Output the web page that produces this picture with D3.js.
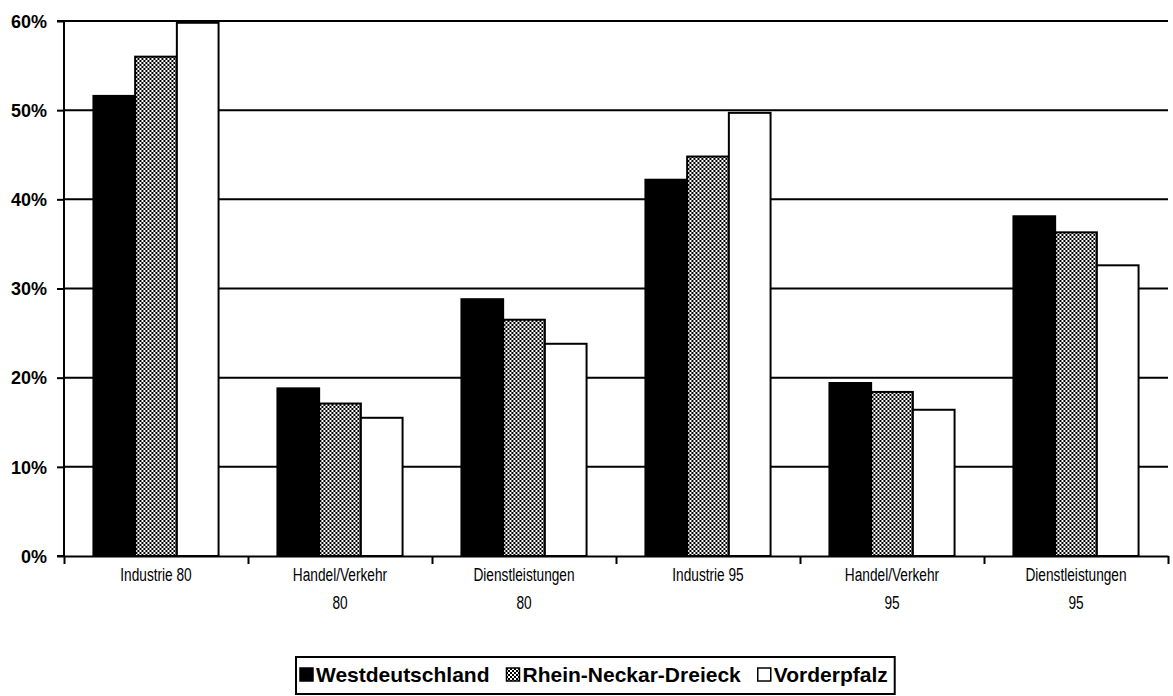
<!DOCTYPE html>
<html><head><meta charset="utf-8">
<script src="https://cdn.jsdelivr.net/npm/d3@7"></script>
<style>
html,body{margin:0;padding:0;background:#fff;}
svg{display:block;}
.ylab{font-family:"Liberation Sans",Arial,sans-serif;font-weight:bold;font-size:18px;}
.xlab{font-family:"Liberation Sans",Arial,sans-serif;font-size:19px;}
.leg{font-family:"Liberation Sans",Arial,sans-serif;font-weight:bold;font-size:21px;}
</style></head>
<body>
<svg id="chart" width="1173" height="696"></svg>
<script>
const categories = ["Industrie 80","Handel/Verkehr 80","Dienstleistungen 80","Industrie 95","Handel/Verkehr 95","Dienstleistungen 95"];
const categoryLabels = [["Industrie 80"],["Handel/Verkehr","80"],["Dienstleistungen","80"],["Industrie 95"],["Handel/Verkehr","95"],["Dienstleistungen","95"]];
const seriesNames = ["Westdeutschland","Rhein-Neckar-Dreieck","Vorderpfalz"];
const westdeutschland   = [51.6, 18.8, 28.8, 42.2, 19.4, 38.1];
const rheinNeckar       = [56.0, 17.1, 26.5, 44.8, 18.4, 36.3];
const vorderpfalz       = [59.8, 15.5, 23.8, 49.7, 16.4, 32.6];
const yTicks = [0,10,20,30,40,50,60];

const seriesValues = [westdeutschland, rheinNeckar, vorderpfalz];
const svg = d3.select("#chart");

const defs = svg.append("defs");
const pat = defs.append("pattern").attr("id","hatch").attr("patternUnits","userSpaceOnUse")
  .attr("width",4).attr("height",4);
pat.append("rect").attr("width",4).attr("height",4).attr("fill","#000");
pat.append("rect").attr("x",0).attr("y",0).attr("width",2).attr("height",2).attr("fill","#fff");
pat.append("rect").attr("x",2).attr("y",2).attr("width",2).attr("height",2).attr("fill","#fff");

const fills = ["#000","url(#hatch)","#fff"];

const pL = 64, pR = 1168, pT = 21, pB = 556;
const y = d3.scaleLinear().domain([0,60]).range([pB, pT]);
const x0 = d3.scaleBand().domain(categories).range([pL,pR]).paddingInner(0.32).paddingOuter(0.16);
const x1 = d3.scaleBand().domain(seriesNames).range([0, x0.bandwidth()]);

// gridlines
svg.append("g").selectAll("line").data(yTicks.filter(d=>d>0)).join("line")
  .attr("x1",pL).attr("x2",pR).attr("y1",d=>y(d)).attr("y2",d=>y(d))
  .attr("stroke","#000").attr("stroke-width",2);

// bars
const rows = categories.map((c,i)=>({cat:c, vals:seriesNames.map((s,j)=>({s, j, v:seriesValues[j][i]}))}));
svg.append("g").selectAll("g").data(rows).join("g")
  .attr("transform",d=>`translate(${x0(d.cat)},0)`)
  .selectAll("rect").data(d=>d.vals).join("rect")
  .attr("x",d=>x1(d.s)).attr("width",x1.bandwidth())
  .attr("y",d=>y(d.v)).attr("height",d=>y(0)-y(d.v))
  .attr("fill",d=>fills[d.j]).attr("stroke","#000").attr("stroke-width",2);

// y axis
const yAxis = d3.axisLeft(y).tickValues(yTicks).tickFormat(d=>d+"%").tickSize(7).tickPadding(10);
const gy = svg.append("g").attr("transform",`translate(${pL},0)`).call(yAxis);
gy.attr("font-family",null).attr("font-size",null);
gy.select(".domain").attr("stroke","#000").attr("stroke-width",2).attr("d",`M-7,${pT}H0V${pB}H-7`);
gy.selectAll(".tick line").attr("stroke","#000").attr("stroke-width",2);
gy.selectAll(".tick text").attr("class","ylab").attr("fill","#000").attr("dy","0.35em").attr("x",-17);

// x baseline with boundary ticks
const xb = d3.scaleLinear().domain([0,categories.length]).range([pL,pR]);
const xAxis = d3.axisBottom(xb).tickValues(d3.range(categories.length+1)).tickFormat("").tickSize(8).tickSizeOuter(0);
const gx = svg.append("g").attr("transform",`translate(0,${pB})`).call(xAxis);
gx.select(".domain").attr("stroke","#000").attr("stroke-width",2);
gx.selectAll(".tick line").attr("stroke","#000").attr("stroke-width",2);

// category labels (narrow look via horizontal scale)
const lab = svg.append("g").selectAll("g").data(categories).join("g")
  .attr("transform",d=>`translate(${x0(d)+x0.bandwidth()/2},${pB+25}) scale(0.72,1)`)
  .append("text").attr("class","xlab").attr("text-anchor","middle").attr("x",0).attr("y",0);
lab.selectAll("tspan").data((d,i)=>categoryLabels[i]).join("tspan")
  .attr("x",0).attr("dy",(d,i)=>i===0?0:"1.5em").text(d=>d);

// legend
const lg = svg.append("g");
const ly = 675;
let cx = 300;
seriesNames.forEach((s,j)=>{
  const g = lg.append("g");
  g.append("rect").attr("x",cx).attr("y",ly-7).attr("width",13).attr("height",13)
    .attr("fill",fills[j]).attr("stroke","#000").attr("stroke-width",1.5);
  const t = g.append("text").attr("class","leg").attr("x",cx+16).attr("y",ly).attr("dy","0.35em").text(s);
  cx += 16 + t.node().getComputedTextLength() + 17;
});
lg.insert("rect",":first-child").attr("x",296).attr("y",657).attr("width",cx-17+7-296).attr("height",37)
  .attr("fill","#fff").attr("stroke","#000").attr("stroke-width",2);
</script>
</body></html>
